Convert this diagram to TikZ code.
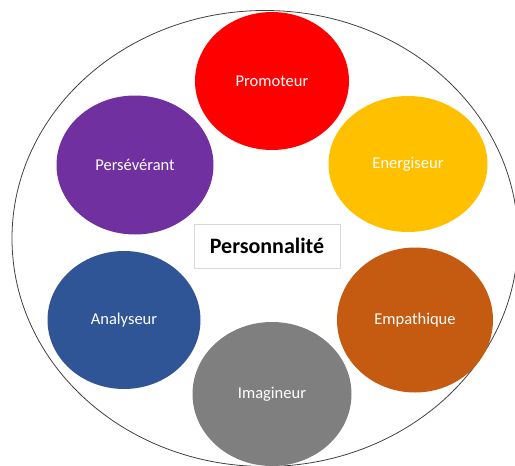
\documentclass[tikz,border=0pt]{standalone}
\usepackage{fontspec}
\setmainfont{Carlito}
\usetikzlibrary{shapes.geometric}

\begin{document}
\begin{tikzpicture}[x=1pt, y=-1pt,
    trait/.style={ellipse, draw=none, text=white, inner sep=0, font=\fontsize{16.5}{19}\selectfont},
    centre/.style={draw=black!15, line width=0.6pt, fill=white, minimum width=146pt, minimum height=44pt, inner sep=0, font=\fontsize{22}{26}\bfseries}]

    \useasboundingbox (0,0) rectangle (515,466);

    % outer ellipse first, the circles sit on top of it
    \draw[black!75, line width=0.8pt] (265,238.5) ellipse (253 and 228);

    \node[trait, fill={rgb,255:red,255;green,0;blue,0}, minimum width=154pt, minimum height=138pt] (promoteur) at (272,81) {Promoteur};
    \node[trait, fill={rgb,255:red,255;green,192;blue,0}, minimum width=159pt, minimum height=136pt] (energiseur) at (408,164) {Energiseur};
    \node[trait, fill={rgb,255:red,197;green,90;blue,17}, minimum width=156pt, minimum height=145pt] (empathique) at (415,320) {Empathique};
    \node[trait, fill={rgb,255:red,127;green,127;blue,127}, minimum width=159pt, minimum height=144pt] (imagineur) at (272,394) {Imagineur};
    \node[trait, fill={rgb,255:red,47;green,85;blue,151}, minimum width=153pt, minimum height=138pt] (analyseur) at (124,320) {Analyseur};
    \node[trait, fill={rgb,255:red,112;green,48;blue,160}, minimum width=157pt, minimum height=139pt] (perseverant) at (135,165) {Persévérant};

    \node[centre] (personnalite) at (267,246) {Personnalité};
\end{tikzpicture}
\end{document}
